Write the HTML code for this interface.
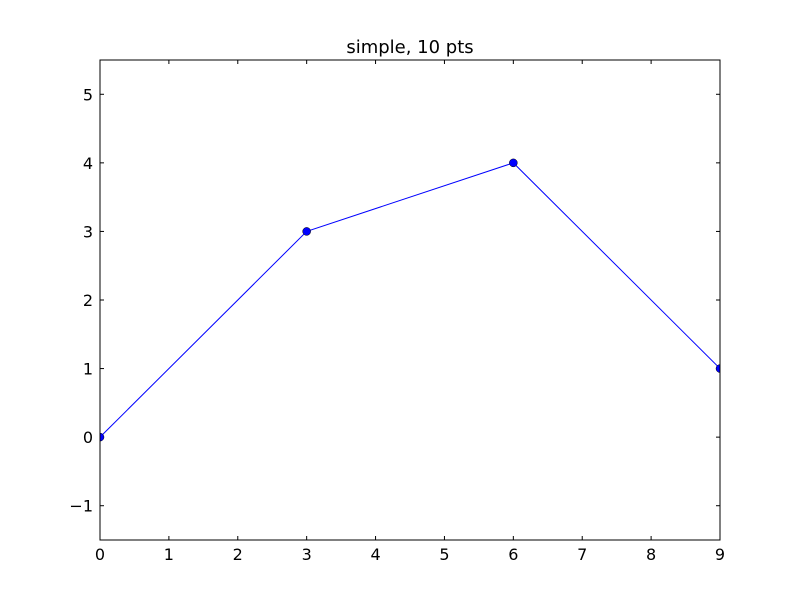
<!DOCTYPE html>
<html><head><meta charset="utf-8"><style>
html,body{margin:0;padding:0;background:#fff;}
svg text{font-family:"DejaVu Sans","Liberation Sans",sans-serif;font-size:16px;fill:#000;}
</style></head><body>
<svg id="chart" width="800" height="600" xmlns="http://www.w3.org/2000/svg">
<rect x="0" y="0" width="800" height="600" fill="#fff"/>
<text x="410" y="53" text-anchor="middle" style="font-size:18px">simple, 10 pts</text>
<g id="axes"></g>
<g id="series"></g>
<rect x="100" y="60" width="620" height="480" fill="none" stroke="#000" stroke-width="1"/>
</svg>
<script>
const xValues = [0, 3, 6, 9];
const yValues = [0, 3, 4, 1];
const xTicks = [0,1,2,3,4,5,6,7,8,9];
const yTicks = [-1,0,1,2,3,4,5];
const yTickLabels = ["\u22121","0","1","2","3","4","5"];

const L=100,R=720,T=60,B=540, xmin=0,xmax=9,ymin=-1.5,ymax=5.5;
const sx=v=>L+(v-xmin)/(xmax-xmin)*(R-L);
const sy=v=>T+(ymax-v)/(ymax-ymin)*(B-T);
const NS="http://www.w3.org/2000/svg";
const axes=document.getElementById('axes'), ser=document.getElementById('series');
function mk(tag,attrs,parent){const e=document.createElementNS(NS,tag);for(const k in attrs)e.setAttribute(k,attrs[k]);parent.appendChild(e);return e;}
xTicks.forEach(v=>{
  const x=sx(v);
  const t1=mk('line',{x1:x,y1:B,x2:x,y2:B-4,stroke:'#000'},axes);
  
  
  const t2=mk('line',{x1:x,y1:T,x2:x,y2:T+4,stroke:'#000'},axes);
  
  
  const lb=mk('text',{x:x,y:B+20,'text-anchor':'middle'},axes);
  lb.textContent=String(v);
  
  
});
yTicks.forEach((v,i)=>{
  const y=sy(v);
  const t1=mk('line',{x1:L,y1:y,x2:L+4,y2:y,stroke:'#000'},axes);
  
  
  const t2=mk('line',{x1:R,y1:y,x2:R-4,y2:y,stroke:'#000'},axes);
  
  
  const lb=mk('text',{x:L-7,y:y+6,'text-anchor':'end'},axes);
  lb.textContent=yTickLabels[i];
  
  
});
const cp=mk('clipPath',{id:'clip'},ser);
mk('rect',{x:L,y:T,width:R-L,height:B-T},cp);
const g=mk('g',{'clip-path':'url(#clip)'},ser);
const pl=mk('polyline',{points:xValues.map((x,i)=>sx(x)+','+sy(yValues[i])).join(' '),fill:'none',stroke:'#0000ff','stroke-width':1},g);


xValues.forEach((x,i)=>{
  const c=mk('circle',{cx:sx(x),cy:sy(yValues[i]),r:4,fill:'#0000ff',stroke:'#000','stroke-width':0.5},g);
  
  
});
</script>
</body></html>
